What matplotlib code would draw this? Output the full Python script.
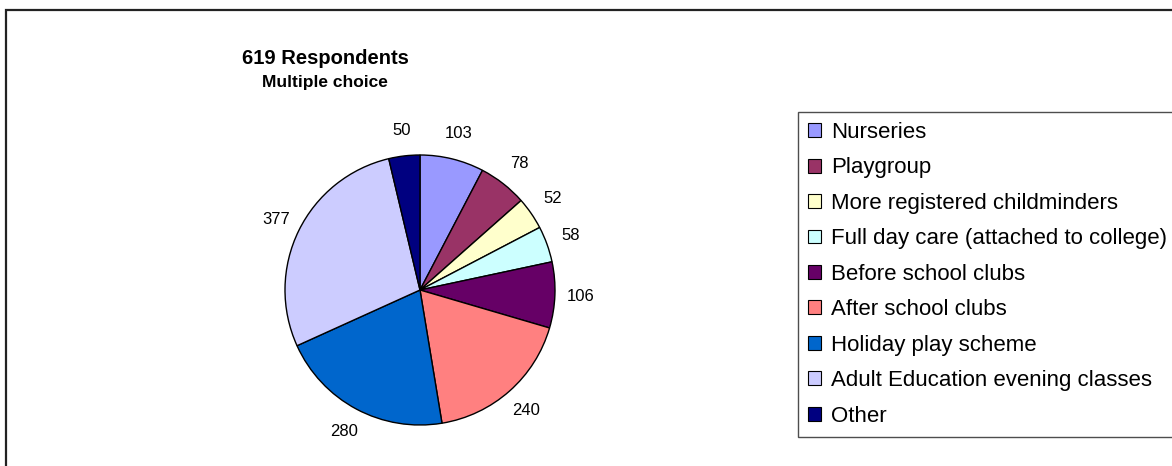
import matplotlib.pyplot as plt
from matplotlib.patches import Rectangle, Patch

plt.rcParams['font.family'] = ['Liberation Sans', 'DejaVu Sans']

# data
categories = ['Nurseries', 'Playgroup', 'More registered childminders',
              'Full day care (attached to college)', 'Before school clubs',
              'After school clubs', 'Holiday play scheme',
              'Adult Education evening classes', 'Other']
counts = [103, 78, 52, 58, 106, 240, 280, 377, 50]
colors = ['#9999FF', '#993366', '#FFFFCC', '#CCFFFF', '#660066',
          '#FF8080', '#0066CC', '#CCCCFF', '#000080']

W, H = 1172, 466
fig = plt.figure(figsize=(W / 100, H / 100), dpi=100)
fig.patch.set_facecolor('white')

# outer chart frame (cropped on right/bottom)
fig.add_artist(Rectangle((5.5 / W, -0.05), 1.2, (H - 10) / H + 0.05,
                         transform=fig.transFigure, fill=False,
                         edgecolor='#222222', linewidth=1.6, clip_on=False))

# pie axes: radius 135 px, centre at (420, 290 from top)
r_px = 135
half = 1.6 * r_px
cx, cy = 420, H - 290
ax = fig.add_axes([(cx - half) / W, (cy - half) / H, 2 * half / W, 2 * half / H])
wedges, texts = ax.pie(counts, colors=colors, labels=[str(c) for c in counts],
                       startangle=90, counterclock=False, labeldistance=1.19,
                       wedgeprops=dict(edgecolor='black', linewidth=1.0),
                       textprops=dict(fontsize=12, color='black'))
for t in texts:
    t.set_horizontalalignment('center')
    t.set_verticalalignment('center')
ax.set_xlim(-1.6, 1.6)
ax.set_ylim(-1.6, 1.6)
ax.set_aspect('equal')
ax.axis('off')

# titles
fig.text(325 / W, 1 - 59 / H, '619 Respondents', ha='center', va='center',
         fontsize=14.5, fontweight='bold')
fig.text(325 / W, 1 - 82 / H, 'Multiple choice', ha='center', va='center',
         fontsize=12.5, fontweight='bold')

# legend
handles = [Patch(facecolor=c, edgecolor='black', linewidth=0.8) for c in colors]
leg = fig.legend(handles, categories, loc='upper left',
                 bbox_to_anchor=(798 / W, 1 - 112 / H),
                 fontsize=16, frameon=True, fancybox=False,
                 handlelength=0.58, handleheight=0.58, handletextpad=0.45,
                 borderpad=0.45, labelspacing=0.65, borderaxespad=0)
leg.get_frame().set_edgecolor('#222222')
leg.get_frame().set_linewidth(1.0)

fig.savefig('out.png', dpi=100)
